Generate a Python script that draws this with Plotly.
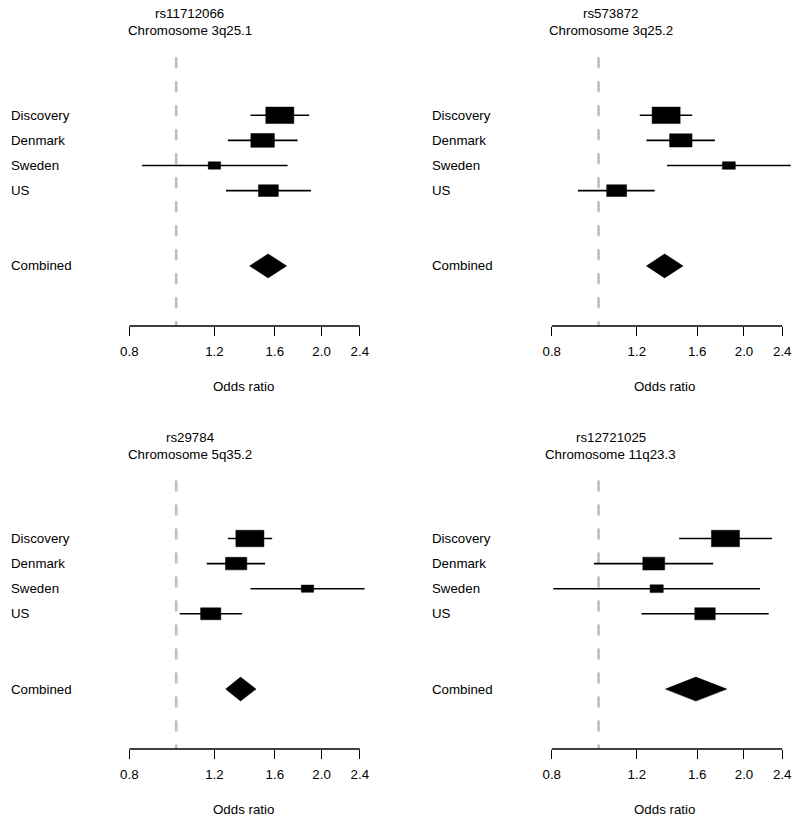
import numpy as np
import plotly.graph_objects as go

# ---------------- data ----------------
studies = ["Discovery", "Denmark", "Sweden", "US"]
combined_label = "Combined"
snps = ["rs11712066", "rs573872", "rs29784", "rs12721025"]
regions = ["Chromosome 3q25.1", "Chromosome 3q25.2", "Chromosome 5q35.2", "Chromosome 11q23.3"]

# odds ratio, lower / upper 95% CI, relative weight (box size) per study
or_p1 = [1.639, 1.510, 1.200, 1.552]
lo_p1 = [1.425, 1.279, 0.850, 1.268]
hi_p1 = [1.885, 1.784, 1.701, 1.900]
wt_p1 = [1.00, 0.84, 0.44, 0.71]
comb_p1 = [1.550, 1.419, 1.693]   # combined OR, lower, upper

or_p2 = [1.380, 1.480, 1.861, 1.090]
lo_p2 = [1.217, 1.256, 1.386, 0.906]
hi_p2 = [1.563, 1.741, 2.498, 1.307]
wt_p2 = [1.00, 0.80, 0.46, 0.71]
comb_p2 = [1.370, 1.256, 1.496]

or_p3 = [1.421, 1.331, 1.870, 1.179]
lo_p3 = [1.279, 1.157, 1.425, 1.017]
hi_p3 = [1.580, 1.528, 2.454, 1.369]
wt_p3 = [1.00, 0.76, 0.44, 0.72]
comb_p3 = [1.359, 1.266, 1.463]

or_p4 = [1.831, 1.301, 1.319, 1.661]
lo_p4 = [1.468, 0.978, 0.806, 1.227]
hi_p4 = [2.286, 1.727, 2.159, 2.250]
wt_p4 = [1.00, 0.78, 0.47, 0.73]
comb_p4 = [1.590, 1.375, 1.843]

tick_vals = [0.8, 1.2, 1.6, 2.0, 2.4]
tick_text = ["0.8", "1.2", "1.6", "2.0", "2.4"]
null_value = 1.0
x_label = "Odds ratio"

panels = [
    (or_p1, lo_p1, hi_p1, wt_p1, comb_p1),
    (or_p2, lo_p2, hi_p2, wt_p2, comb_p2),
    (or_p3, lo_p3, hi_p3, wt_p3, comb_p3),
    (or_p4, lo_p4, hi_p4, wt_p4, comb_p4),
]

# ---------------- layout geometry ----------------
W, H = 800, 823
PX_PER_DEC = 485.5          # pixels per decade on the log axis
XMIN, XMAX = 0.78, 2.56
ROW_PX = 25.1
x08_px = [126.0, 550.5, 126.0, 550.5]      # pixel of OR=0.8
row1_px = [115.3, 115.3, 538.5, 538.5]     # pixel of first study row
axis_px = [326.0, 326.0, 749.0, 749.0]     # pixel of x axis line
top_px = [50.0, 50.0, 473.0, 473.0]
label_x_px = [5.0, 428.5, 5.0, 428.5]
title_cx_px = [186.5, 610.0, 186.5, 610.0]
title_y_px = [[14.0, 30.8], [14.0, 30.8], [437.0, 454.0], [437.0, 454.0]]
xlab_cx_px = [240.5, 663.5, 240.5, 663.5]
xlab_y_px = [386.7, 386.7, 809.7, 809.7]

study_rows = [1, 2, 3, 4]
comb_row = 7
null_top_row = -1.31

BOX_W_PX = 28.2
BOX_H_PX = 16.5
DIA_H_PX = 24.0

FONT = "Liberation Sans, Arial, Helvetica, sans-serif"
FS = 13.3

fig = go.Figure()
annotations = []
layout_axes = {}

for i, (ors, los, his, wts, comb) in enumerate(panels):
    k = i + 1
    xa = "x" if k == 1 else f"x{k}"
    ya = "y" if k == 1 else f"y{k}"
    xname = "xaxis" if k == 1 else f"xaxis{k}"
    yname = "yaxis" if k == 1 else f"yaxis{k}"

    def px_to_row(p, i=i):
        return 1 + (p - row1_px[i]) / ROW_PX

    dom_l = x08_px[i] - PX_PER_DEC * np.log10(0.8 / XMIN)
    dom_r = x08_px[i] + PX_PER_DEC * np.log10(XMAX / 0.8)
    bottom_px = axis_px[i] + 6
    axis_row = px_to_row(axis_px[i])

    layout_axes[xname] = dict(
        type="log", domain=[dom_l / W, dom_r / W],
        range=[np.log10(XMIN), np.log10(XMAX)],
        anchor="free", position=1 - axis_px[i] / H,
        showgrid=False, zeroline=False, showline=False,
        ticks="outside", ticklen=9, tickwidth=1.4, tickcolor="black",
        tickvals=tick_vals, ticktext=tick_text,
        tickfont=dict(family=FONT, size=FS, color="black"),
        ticklabelstandoff=4,
        fixedrange=True,
    )
    layout_axes[yname] = dict(
        domain=[1 - bottom_px / H, 1 - top_px[i] / H],
        range=[px_to_row(bottom_px), px_to_row(top_px[i])],
        anchor=xa, visible=False, showgrid=False, zeroline=False,
        fixedrange=True,
    )

    # null line
    fig.add_trace(go.Scatter(
        x=[null_value, null_value], y=[null_top_row, axis_row],
        mode="lines", line=dict(color="#bebebe", width=2.6, dash="11px,13px"),
        xaxis=xa, yaxis=ya, hoverinfo="skip", showlegend=False))

    # axis baseline
    fig.add_trace(go.Scatter(
        x=[tick_vals[0], tick_vals[-1]], y=[axis_row, axis_row],
        mode="lines", line=dict(color="black", width=1.4),
        xaxis=xa, yaxis=ya, hoverinfo="skip", showlegend=False))

    # confidence intervals
    cx, cy = [], []
    for r, lo, hi in zip(study_rows, los, his):
        cx += [lo, hi, None]
        cy += [r, r, None]
    fig.add_trace(go.Scatter(
        x=cx, y=cy, mode="lines", line=dict(color="black", width=1.6),
        xaxis=xa, yaxis=ya, hoverinfo="skip", showlegend=False))

    # boxes
    for r, o, w in zip(study_rows, ors, wts):
        hw = 10 ** (BOX_W_PX * w / 2 / PX_PER_DEC)
        hh = BOX_H_PX * w / 2 / ROW_PX
        fig.add_trace(go.Scatter(
            x=[o / hw, o * hw, o * hw, o / hw, o / hw],
            y=[r - hh, r - hh, r + hh, r + hh, r - hh],
            mode="lines", fill="toself", fillcolor="black",
            line=dict(color="black", width=0.5),
            xaxis=xa, yaxis=ya, hoverinfo="skip", showlegend=False))

    # combined diamond
    c, cl, cu = comb
    dh = DIA_H_PX / 2 / ROW_PX
    fig.add_trace(go.Scatter(
        x=[cl, c, cu, c, cl], y=[comb_row, comb_row - dh, comb_row, comb_row + dh, comb_row],
        mode="lines", fill="toself", fillcolor="black",
        line=dict(color="black", width=0.5),
        xaxis=xa, yaxis=ya, hoverinfo="skip", showlegend=False))

    # row labels
    for r, name in zip(study_rows + [comb_row], studies + [combined_label]):
        annotations.append(dict(
            x=label_x_px[i] / W, xref="paper", y=r, yref=ya,
            text=name, showarrow=False, xanchor="left", yanchor="middle",
            font=dict(family=FONT, size=FS, color="black")))

    # titles
    for t, yy in zip([snps[i], regions[i]], title_y_px[i]):
        annotations.append(dict(
            x=title_cx_px[i] / W, xref="paper", y=1 - yy / H, yref="paper",
            text=t, showarrow=False, xanchor="center", yanchor="middle",
            font=dict(family=FONT, size=FS, color="black")))

    # x-axis label
    annotations.append(dict(
        x=xlab_cx_px[i] / W, xref="paper", y=1 - xlab_y_px[i] / H, yref="paper",
        text=x_label, showarrow=False, xanchor="center", yanchor="middle",
        font=dict(family=FONT, size=FS, color="black")))

fig.update_layout(
    width=W, height=H,
    margin=dict(l=0, r=0, t=0, b=0),
    paper_bgcolor="white", plot_bgcolor="white",
    showlegend=False,
    annotations=annotations,
    **layout_axes,
)

fig.write_html(
    "out.html",
    config={"displayModeBar": False},
    post_script="document.body.style.margin='0px';document.body.style.padding='0px';"
                "document.body.style.overflow='hidden';",
)
